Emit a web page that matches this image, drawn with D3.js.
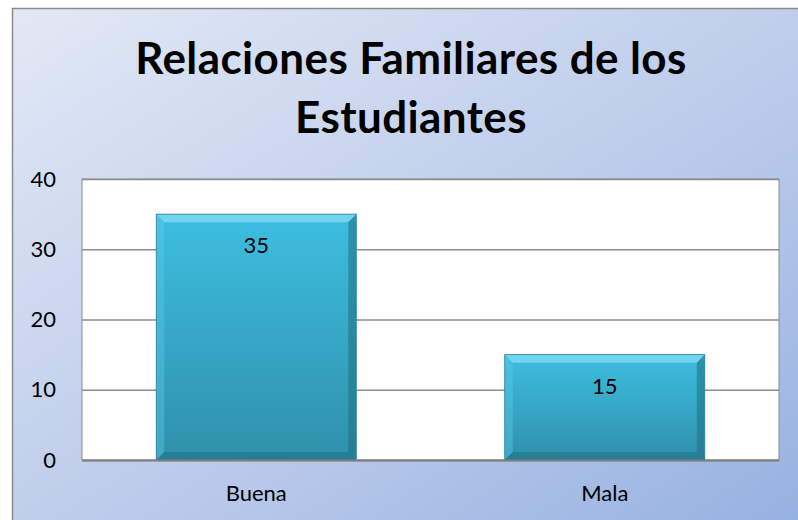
<!DOCTYPE html>
<html>
<head>
<meta charset="utf-8">
<script src="https://cdn.jsdelivr.net/npm/d3@7"></script>
<style>
  body { margin: 0; background: #fff; }
  text { font-family: Lato, "Open Sans", sans-serif; }
</style>
</head>
<body>
<svg width="798" height="520"></svg>
<script>
// chart data
var categories = ['Buena', 'Mala'];
var values = [35, 15];
var yTicks = [0, 10, 20, 30, 40];
var titleLines = ['Relaciones Familiares de los', 'Estudiantes'];

var svg = d3.select('svg');
var svgWidth = +svg.attr('width');
var svgHeight = +svg.attr('height');

var defs = svg.append('defs');

// background gradient of the chart area
var bg = defs.append('linearGradient').attr('id', 'bg')
    .attr('x1', '0%').attr('y1', '0%').attr('x2', '100%').attr('y2', '100%');
bg.append('stop').attr('offset', '0%').attr('stop-color', '#e2e9f5');
bg.append('stop').attr('offset', '55%').attr('stop-color', '#bccbeb');
bg.append('stop').attr('offset', '100%').attr('stop-color', '#95b1e0');

// bar fill
var barGrad = defs.append('linearGradient').attr('id', 'barGrad')
    .attr('x1', 0).attr('y1', 0).attr('x2', 0).attr('y2', 1);
barGrad.append('stop').attr('offset', '0%').attr('stop-color', '#3dbee1');
barGrad.append('stop').attr('offset', '100%').attr('stop-color', '#2f90aa');

svg.append('rect')
    .attr('x', 12.5).attr('y', 8.5)
    .attr('width', svgWidth).attr('height', svgHeight)
    .attr('fill', 'url(#bg)')
    .attr('stroke', '#8a8a8a')
    .attr('stroke-width', 1.5);

var padding = {t: 179, r: 19, b: 60, l: 82};
var chartWidth = svgWidth - padding.l - padding.r;
var chartHeight = svgHeight - padding.t - padding.b;

var chartG = svg.append('g')
    .attr('transform', 'translate(' + [padding.l, padding.t] + ')');

var xScale = d3.scaleBand()
    .domain(categories)
    .range([0, chartWidth])
    .paddingInner(0.426)
    .paddingOuter(0.213);

var yScale = d3.scaleLinear()
    .domain([0, 40])
    .range([chartHeight, 0]);

// plot area
chartG.append('rect')
    .attr('width', chartWidth).attr('height', chartHeight)
    .attr('fill', '#fff')
    .attr('stroke', '#8c8c8c');

// gridlines
chartG.append('g')
    .attr('class', 'grid')
    .call(d3.axisLeft(yScale).tickValues(yTicks).tickSize(-chartWidth).tickFormat(''))
    .call(g => g.select('.domain').remove())
    .selectAll('line')
    .attr('stroke', '#8c8c8c')
    .attr('stroke-width', 1.3);

// y axis labels
var yAxis = chartG.append('g')
    .call(d3.axisLeft(yScale).tickValues(yTicks).tickSize(0).tickPadding(26));
yAxis.select('.domain').remove();
yAxis.selectAll('text')
    .attr('font-size', 22)
    .attr('fill', '#000')
    .style('font-family', 'Lato, sans-serif');

// bars
var bev = 8;
var bars = chartG.selectAll('.bar')
    .data(values)
    .enter().append('g')
    .attr('class', 'bar');

bars.append('rect')
    .attr('x', (d, i) => xScale(categories[i]))
    .attr('y', d => yScale(d))
    .attr('width', xScale.bandwidth())
    .attr('height', d => chartHeight - yScale(d))
    .attr('fill', 'url(#barGrad)');

// bevel edges
function bevel(d, i, side) {
    var x0 = xScale(categories[i]), x1 = x0 + xScale.bandwidth();
    var y0 = yScale(d), y1 = chartHeight;
    if (side === 'top') return [[x0, y0], [x1, y0], [x1 - bev, y0 + bev], [x0 + bev, y0 + bev]];
    if (side === 'left') return [[x0, y0], [x0 + bev, y0 + bev], [x0 + bev, y1 - bev], [x0, y1]];
    if (side === 'right') return [[x1, y0], [x1, y1], [x1 - bev, y1 - bev], [x1 - bev, y0 + bev]];
    return [[x0, y1], [x0 + bev, y1 - bev], [x1 - bev, y1 - bev], [x1, y1]];
}
var bevelStyle = {top: ['#7fdaf2', 0.8], left: ['#5ccbea', 0.4], right: ['#1f6f84', 0.55], bottom: ['#1f6a80', 0.5]};
Object.keys(bevelStyle).forEach(function(side) {
    bars.append('polygon')
        .attr('points', (d, i) => bevel(d, i, side).join(' '))
        .attr('fill', bevelStyle[side][0])
        .attr('opacity', bevelStyle[side][1]);
});

bars.append('rect')
    .attr('x', (d, i) => xScale(categories[i]))
    .attr('y', d => yScale(d))
    .attr('width', xScale.bandwidth())
    .attr('height', d => chartHeight - yScale(d))
    .attr('fill', 'none')
    .attr('stroke', '#2a8299')
    .attr('stroke-width', 0.8);

// value labels
bars.append('text')
    .attr('x', (d, i) => xScale(categories[i]) + xScale.bandwidth() / 2)
    .attr('y', d => yScale(d) + 39)
    .attr('text-anchor', 'middle')
    .attr('font-size', 22)
    .text(d => d);

// baseline
chartG.append('line')
    .attr('x1', 0).attr('x2', chartWidth)
    .attr('y1', chartHeight + 0.5).attr('y2', chartHeight + 0.5)
    .attr('stroke', '#7f7f7f')
    .attr('stroke-width', 2);

// category labels
var xAxis = chartG.append('g')
    .attr('transform', 'translate(0,' + chartHeight + ')')
    .call(d3.axisBottom(xScale).tickSize(0).tickPadding(25));
xAxis.select('.domain').remove();
xAxis.selectAll('text')
    .attr('font-size', 22)
    .attr('fill', '#000')
    .style('font-family', 'Lato, sans-serif');

// title
svg.append('g').selectAll('text')
    .data(titleLines)
    .enter().append('text')
    .attr('x', 411)
    .attr('y', (d, i) => 74 + i * 59)
    .attr('text-anchor', 'middle')
    .attr('font-size', 44)
    .attr('letter-spacing', 0.4)
    .attr('font-weight', 'bold')
    .text(d => d);
</script>
</body>
</html>
